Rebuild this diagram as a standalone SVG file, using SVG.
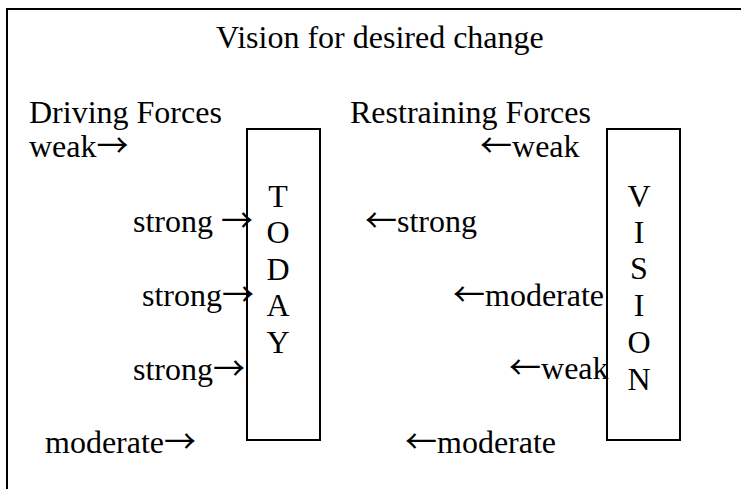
<svg xmlns="http://www.w3.org/2000/svg" width="741" height="489" viewBox="0 0 741 489">
<style>
text{font-family:"Liberation Serif","Times New Roman",serif;font-size:32px;fill:#000}
.ar{font-family:"Noto Sans CJK SC","Liberation Serif",serif}
.box{fill:#fff;stroke:#000;stroke-width:2}
</style>
<rect width="741" height="489" fill="#fff"/>
<rect id="frame" x="7" y="9" width="760" height="500" fill="none" stroke="#000" stroke-width="2"/>
<text x="216" y="48">Vision for desired change</text>
<text x="29" y="123">Driving Forces</text>
<text x="350" y="123">Restraining Forces</text>
<g id="today">
<rect class="box" x="247" y="129" width="73" height="311"/>
<text text-anchor="middle"><tspan x="278" y="207">T</tspan><tspan x="278" y="243">O</tspan><tspan x="278" y="280">D</tspan><tspan x="278" y="316">A</tspan><tspan x="278" y="353">Y</tspan></text>
</g>
<g id="vision">
<rect class="box" x="607" y="129" width="73" height="311"/>
<text text-anchor="middle"><tspan x="639" y="207">V</tspan><tspan x="639" y="243">I</tspan><tspan x="639" y="279">S</tspan><tspan x="639" y="316">I</tspan><tspan x="639" y="353">O</tspan><tspan x="639" y="390">N</tspan></text>
</g>
<g id="connectors">
<text x="29" y="157">weak<tspan class="ar">→</tspan></text>
<text x="133" y="232">strong <tspan class="ar">→</tspan></text>
<text x="142" y="306">strong<tspan class="ar">→</tspan></text>
<text x="133" y="380">strong<tspan class="ar">→</tspan></text>
<text x="45" y="453">moderate<tspan class="ar">→</tspan></text>
<text x="480" y="157"><tspan class="ar">←</tspan>weak</text>
<text x="365" y="232"><tspan class="ar">←</tspan>strong</text>
<text x="453" y="306"><tspan class="ar">←</tspan>moderate</text>
<text x="509" y="379"><tspan class="ar">←</tspan>weak</text>
<text x="405" y="453"><tspan class="ar">←</tspan>moderate</text>
</g>
</svg>
